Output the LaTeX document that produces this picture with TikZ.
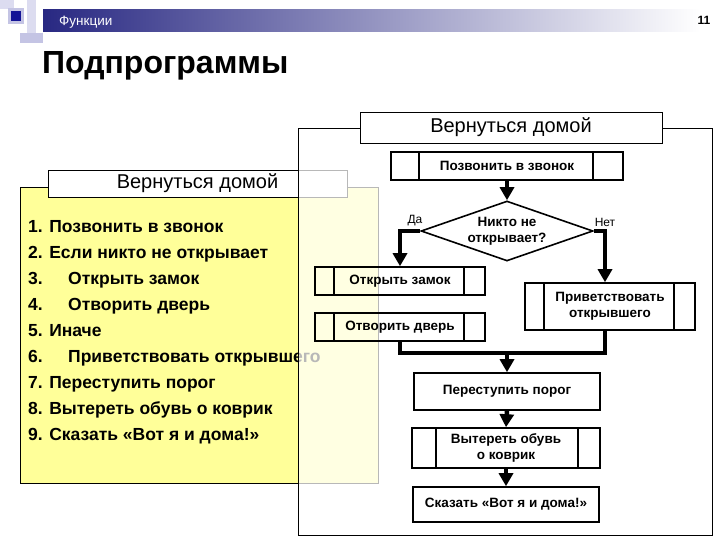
\documentclass[tikz,border=0pt]{standalone}
\usepackage{fontspec}
\setmainfont{Liberation Sans}
\usetikzlibrary{shapes.geometric,arrows.meta}
\definecolor{navy}{RGB}{40,40,130}
\definecolor{lav}{RGB}{196,196,228}
\definecolor{lavlight}{RGB}{220,220,240}
\definecolor{dblue}{RGB}{20,20,150}
\definecolor{paleyellow}{RGB}{255,255,153}
\begin{document}
\begin{tikzpicture}[x=1pt,y=-1pt,
  box/.style={draw,line width=1.6pt,inner sep=0pt,font=\bfseries\fontsize{13.5}{16}\selectfont,align=center},
  flow/.style={line width=4.5pt,-{Triangle[width=14pt,length=13pt]}},
  link/.style={line width=4.5pt},
  cell/.style={line width=1.6pt},
  hdr/.style={draw,fill=white,inner sep=0pt,font=\fontsize{20}{22}\selectfont},
  lbl/.style={inner sep=0pt,font=\fontsize{12}{14}\selectfont},
  item/.style={anchor=base west,inner sep=0pt,font=\bfseries\fontsize{17.5}{20}\selectfont},
]
\useasboundingbox (0,0) rectangle (720,540);
\fill[white] (0,0) rectangle (720,540);
% decoration top-left
\fill[lavlight] (0,0) rectangle (14,9);
\fill[lavlight] (27,0) rectangle (36,34);
\fill[lav] (8,8) rectangle (24,24);
\fill[dblue] (11,11) rectangle (21,21);
\fill[lav] (20,33) rectangle (43,43);
% header bar
\shade[left color=navy,right color=white] (43,10) rectangle (700,32);
\node[anchor=base west,inner sep=0pt,text=white,font=\fontsize{13.5}{15}\selectfont] (sec) at (59,26) {Функции};
\node[inner sep=0pt,font=\bfseries\fontsize{12}{14}\selectfont] (pg) at (704,20) {11};
% title
\node[anchor=base west,inner sep=0pt,font=\bfseries\fontsize{32}{38}\selectfont] (title) at (42,74) {Подпрограммы};
% left panel
\draw[fill=paleyellow] (20,187) rectangle (378,483);
\node[hdr,minimum width=299pt,minimum height=27pt] (lh) at (197.5,183.5) {Вернуться домой};
\node[item] (l1) at (28,233) {1. Позвонить в звонок};
\node[item] (l2) at (28,258.9) {2. Если никто не открывает};
\node[item] (l3) at (28,284.8) {\makebox[40pt][l]{3.}Открыть замок};
\node[item] (l4) at (28,310.7) {\makebox[40pt][l]{4.}Отворить дверь};
\node[item] (l5) at (28,336.6) {5. Иначе};
\node[item] (l6) at (28,362.5) {\makebox[40pt][l]{6.}Приветствовать открывшего};
\node[item] (l7) at (28,388.4) {7. Переступить порог};
\node[item] (l8) at (28,414.3) {8. Вытереть обувь о коврик};
\node[item] (l9) at (28,440.2) {9. Сказать «Вот я и дома!»};
% right frame (semi-opaque over left panel)
\draw[fill=white,fill opacity=0.72] (298,128) rectangle (712,535);
\node[hdr,minimum width=302pt,minimum height=31pt] (rh) at (511,127.5) {Вернуться домой};
% flowchart
\node[box,minimum width=232pt,minimum height=28pt] (pz) at (507,166) {Позвонить в звонок};
\draw[cell] ([xshift=29pt]pz.north west) -- ([xshift=29pt]pz.south west);
\draw[cell] ([xshift=-31pt]pz.north east) -- ([xshift=-31pt]pz.south east);
\node[box,diamond,aspect=2.97,minimum width=172pt,minimum height=60pt] (dia) at (507,231) {Никто не\\открывает?};
\node[lbl] (da) at (415,221) {Да};
\node[lbl] (net) at (605,222) {Нет};
\node[box,minimum width=170pt,minimum height=28pt] (zam) at (400,281) {Открыть замок};
\draw[cell] ([xshift=20pt]zam.north west) -- ([xshift=20pt]zam.south west);
\draw[cell] ([xshift=-22pt]zam.north east) -- ([xshift=-22pt]zam.south east);
\node[box,minimum width=170pt,minimum height=28pt] (dv) at (400,327) {Отворить дверь};
\draw[cell] ([xshift=20pt]dv.north west) -- ([xshift=20pt]dv.south west);
\draw[cell] ([xshift=-22pt]dv.north east) -- ([xshift=-22pt]dv.south east);
\node[box,minimum width=170pt,minimum height=47pt] (priv) at (610,306.5) {Приветствовать\\открывшего};
\draw[cell] ([xshift=20pt]priv.north west) -- ([xshift=20pt]priv.south west);
\draw[cell] ([xshift=-22pt]priv.north east) -- ([xshift=-22pt]priv.south east);
\node[box,minimum width=186pt,minimum height=37pt] (per) at (507,391.5) {Переступить порог};
\node[box,minimum width=188pt,minimum height=40pt] (vyt) at (506,448) {Вытереть обувь\\о коврик};
\draw[cell] ([xshift=25pt]vyt.north west) -- ([xshift=25pt]vyt.south west);
\draw[cell] ([xshift=-23pt]vyt.north east) -- ([xshift=-23pt]vyt.south east);
\node[box,minimum width=186pt,minimum height=35pt] (sk) at (506,504.5) {Сказать «Вот я и дома!»};
% connectors
\coordinate (jn) at (507,353);
\draw[flow] (pz.south) -- (dia.north);
\draw[flow] (dia.west) -| (zam.north);
\draw[flow] (dia.east) -| ([xshift=-5pt]priv.north);
\draw[link] (dv.south) |- (jn) -| ([xshift=-5pt]priv.south);
\draw[flow] (jn) -- (per.north);
\draw[flow] (per.south) -- (vyt.north);
\draw[flow] (vyt.south) -- (sk.north);
\end{tikzpicture}
\end{document}
